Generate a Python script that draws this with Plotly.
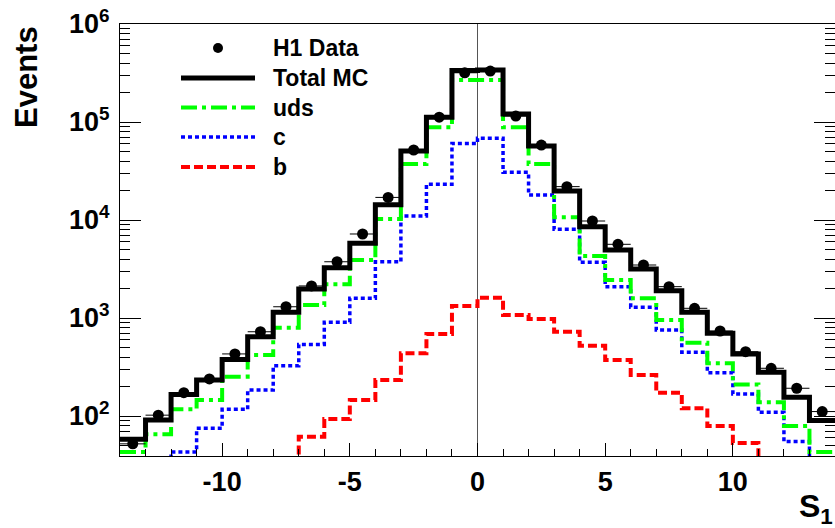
import numpy as np
import plotly.graph_objects as go

# ---------------- data ----------------
bin_edges = list(range(-14, 15))           # 28 bins of width 1
bin_centers = [e + 0.5 for e in bin_edges[:-1]]

data_h1 = [52, 102, 173, 239, 430, 724, 1303, 2124, 3750, 7200, 17000, 51800,
           112000, 318000, 331000, 115000, 58200, 21900, 9770, 5650, 3474,
           2089, 1256, 737, 453, 307, 192, 111]

total_mc = [58, 91, 166, 233, 378, 644, 1143, 1977, 3260, 5780, 14300, 50600,
            111600, 336000, 340000, 120800, 56900, 19800, 8550, 4945, 3162,
            1900, 1143, 698, 429, 279, 155, 90]

uds = [43, 65, 117, 146, 252, 419, 796, 1358, 2206, 3910, 10230, 37300,
       88300, 268000, 268000, 88300, 37300, 10650, 4295, 2443, 1589,
       955, 560, 345, 210, 138, 79, 43]

c_q = [20, 30, 43, 75, 117, 184, 326, 538, 904, 1589, 3750, 10990,
       23100, 60500, 68200, 30700, 18000, 8040, 3700, 2089, 1285,
       755, 447, 277, 168, 109, 55, 30]

b_q = [6, 8, 11, 15, 20, 27, 36, 61.5, 93, 146, 233, 437,
       687, 1324, 1610, 1074, 977, 725, 521, 372, 262,
       173, 120, 79, 53, 35, 24, 16]

x_ticks = [-10, -5, 0, 5, 10]
x_tick_labels = ["-10", "-5", "0", "5", "10"]
y_decades = [2, 3, 4, 5, 6]
legend_labels = ["H1 Data", "Total MC", "uds", "c", "b"]

FONT = "Liberation Sans"
W, H = 835, 528
ML, MR, MT, MB = 120, 0, 24, 72
PW, PH = W - ML - MR, H - MT - MB


def px_x(px):
    return (px - ML) / PW


def px_y(py):
    return (H - MB - py) / PH


def step(vals):
    return list(vals) + [vals[-1]]


fig = go.Figure()

hist_styles = {
    "b": (b_q, "#ff0000", 4, "9px,4px"),
    "c": (c_q, "#0000ff", 3.5, "4px,3px"),
    "uds": (uds, "#00ff00", 4, "16px,5px,4px,5px"),
    "Total MC": (total_mc, "#000000", 5, "solid"),
}
for name in ["b", "c", "uds", "Total MC"]:
    vals, col, w, dash = hist_styles[name]
    fig.add_trace(go.Scatter(
        x=bin_edges, y=step(vals), mode="lines", name=name,
        line=dict(color=col, width=w, dash=dash, shape="hv"),
        showlegend=False,
    ))

fig.add_trace(go.Scatter(
    x=bin_centers, y=data_h1, mode="markers", name="H1 Data",
    marker=dict(color="black", size=11),
    error_x=dict(type="constant", value=0.5, color="black", thickness=1, width=0),
    showlegend=False,
))

# ---------------- hand-made legend (ROOT style, long symbols) ----------------
shapes = []
annotations = []
row_y = [48, 78, 107.5, 137, 167]
sym_x0, sym_x1, txt_x = 181, 255, 271
for label, ry in zip(legend_labels, row_y):
    if label == "H1 Data":
        shapes.append(dict(
            type="circle", xref="paper", yref="paper",
            xsizemode="pixel", ysizemode="pixel",
            xanchor=px_x((sym_x0 + sym_x1) / 2), yanchor=px_y(ry),
            x0=-5, x1=5, y0=-5, y1=5,
            fillcolor="black", line=dict(color="black", width=0),
        ))
    else:
        _, col, w, dash = hist_styles[label]
        shapes.append(dict(
            type="line", xref="paper", yref="paper",
            x0=px_x(sym_x0), x1=px_x(sym_x1), y0=px_y(ry), y1=px_y(ry),
            line=dict(color=col, width=w, dash=dash),
        ))
    annotations.append(dict(
        text=f"<b>{label}</b>", xref="paper", yref="paper",
        x=px_x(txt_x), y=px_y(ry), xanchor="left", yanchor="middle",
        showarrow=False, font=dict(family=FONT, size=23, color="black"),
    ))

annotations += [
    dict(text="<b>Events</b>", textangle=-90, xref="paper", yref="paper",
         x=px_x(26), y=px_y(77), xanchor="center", yanchor="middle", showarrow=False,
         font=dict(family=FONT, size=31, color="black")),
    dict(text="<b>S<sub>1</sub></b>", xref="paper", yref="paper",
         x=1.0, y=px_y(508), xanchor="right", yanchor="middle", showarrow=False,
         font=dict(family=FONT, size=32, color="black")),
]

minor_y = [m * 10 ** d for d in range(1, 6) for m in range(2, 10)]

fig.update_layout(
    width=W, height=H,
    margin=dict(l=ML, r=MR, t=MT, b=MB),
    paper_bgcolor="white", plot_bgcolor="white",
    font=dict(family=FONT, color="black"),
    showlegend=False,
    xaxis=dict(
        range=[-14, 14], tickvals=x_ticks, ticktext=x_tick_labels,
        ticks="inside", ticklen=13, tickwidth=1, tickcolor="black",
        minor=dict(dtick=1, ticks="inside", ticklen=7, tickcolor="black", showgrid=False),
        showline=True, linecolor="black", linewidth=1, mirror=True,
        showgrid=False, zeroline=True, zerolinecolor="#555555", zerolinewidth=1,
        tickfont=dict(family=FONT, size=27, weight="bold", color="black"),
        ticklabelstandoff=2,
    ),
    yaxis=dict(
        type="log", range=[1.592, 6.0],
        tickvals=[10 ** d for d in y_decades],
        ticktext=[f"10<sup>{d}</sup>" for d in y_decades],
        ticks="inside", ticklen=21, tickwidth=1, tickcolor="black",
        minor=dict(tickvals=minor_y, ticks="inside", ticklen=10, tickcolor="black", showgrid=False),
        showline=True, linecolor="black", linewidth=1, mirror="ticks",
        showgrid=False, zeroline=False,
        tickfont=dict(family=FONT, size=27, weight="bold", color="black"),
        ticklabelstandoff=4,
    ),
    shapes=shapes,
    annotations=annotations,
)

fig.write_html("out.html")
